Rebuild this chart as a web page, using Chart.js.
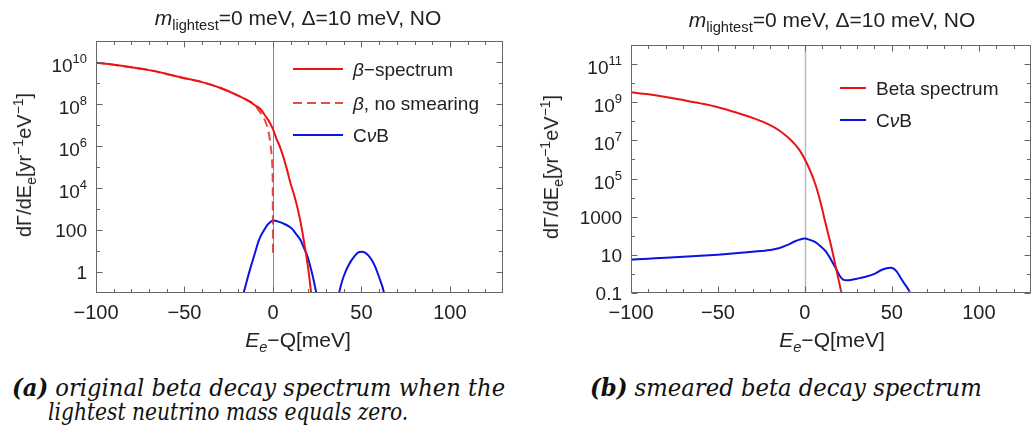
<!DOCTYPE html>
<html lang="en">
<head>
<meta charset="UTF-8">
<title>Beta spectrum and CνB, m_lightest = 0</title>
<script src="https://cdn.jsdelivr.net/npm/chart.js"></script>
<style>
  body { margin: 0; background: #fff; width: 1032px; height: 435px; position: relative; overflow: hidden;
         font-family: "Liberation Sans", Arial, sans-serif; color: #222; }
  canvas { position: absolute; top: 0; }
  #left { left: 0; }
  #right { left: 520px; }
  .txt { position: absolute; white-space: nowrap; line-height: 1; }
  .txt sub, .txt sup { line-height: 0; font-size: 70%; }
  .title { font-size: 21px; transform: translateX(-50%); }
  .xlab { font-size: 21px; transform: translateX(-50%); }
  .ylab { font-size: 20px; transform: translate(-50%, -50%) rotate(-90deg); }
  .cap { position: absolute; white-space: nowrap; line-height: 1; font-family: "DejaVu Serif", serif;
         font-style: italic; font-size: 24px; color: #111; transform-origin: 0 0; }
</style>
</head>
<body>
<canvas id="left" width="520" height="360"></canvas>
<canvas id="right" width="512" height="360"></canvas>

<div class="txt title" style="left:298px; top:7px"><i>m</i><sub>lightest</sub>=0 meV, Δ=10 meV, NO</div>
<div class="txt title" style="left:832px; top:9px"><i>m</i><sub>lightest</sub>=0 meV, Δ=10 meV, NO</div>
<div class="txt ylab" style="left:24px; top:165px">dΓ/dE<sub>e</sub>[yr<sup>−1</sup>eV<sup>−1</sup>]</div>
<div class="txt ylab" style="left:551px; top:167px">dΓ/dE<sub>e</sub>[yr<sup>−1</sup>eV<sup>−1</sup>]</div>
<div class="txt xlab" style="left:298px; top:329px"><i>E<sub>e</sub></i>−Q[meV]</div>
<div class="txt xlab" style="left:832px; top:329px"><i>E<sub>e</sub></i>−Q[meV]</div>

<div class="cap" data-w="493" style="left:12px; top:376px"><b>(a)</b> original beta decay spectrum when the</div>
<div class="cap" data-w="360" style="left:48px; top:400px">lightest neutrino mass equals zero.</div>
<div class="cap" data-w="392" style="left:590px; top:376px"><b>(b)</b> smeared beta decay spectrum</div>

<script>
const FONT = 'Liberation Sans'

// x axis (both panels), meV
const xMin = -100
const xMax = 130
const xMajor = [-100, -50, 0, 50, 100]
const xMinor = [-90, -80, -70, -60, -40, -30, -20, -10, 10, 20, 30, 40, 60, 70, 80, 90, 110, 120]
const xTickLabels = ['−100', '−50', '0', '50', '100']

// panel (a): original spectrum
const leftYMajor = [1, 100, 1e4, 1e6, 1e8, 1e10]
const leftYMinor = [10, 1000, 1e5, 1e7, 1e9]
const leftYTickLabels = ['1', '100', '10^4', '10^6', '10^8', '10^10']

const leftBetaE = [-100, -90, -80, -70, -60, -50, -40, -30, -20, -15, -10, -7, -4, -2, 0, 2, 4, 6, 8, 10, 12, 14, 16, 18, 20, 22]
const leftBetaRate = [9.3e9, 7.4e9, 5.6e9, 4.1e9, 2.7e9, 1.7e9, 1.1e9, 5.9e8, 2.6e8, 1.6e8, 8.5e7, 5.6e7, 2.5e7, 1.4e7,
  6.3e6, 2.2e6, 8.9e5, 2.8e5, 7.1e4, 1.6e4, 4.5e3, 1.0e3, 160, 16, 1.3, 0.05]

const leftNoSmearE = [-100, -90, -80, -70, -60, -50, -40, -30, -20, -15, -10, -8, -6, -5, -4, -3, -2, -1.3, -0.7, -0.3, -0.1, 0]
const leftNoSmearRate = [9.3e9, 7.4e9, 5.6e9, 4.1e9, 2.7e9, 1.7e9, 1.1e9, 5.9e8, 2.6e8, 1.6e8, 8.5e7, 5.0e7, 2.8e7, 2.0e7,
  1.26e7, 7.1e6, 2.8e6, 1.0e6, 3.2e5, 7.9e4, 6.3e3, 5.5]

const leftCvbE1 = [-17.2, -15, -12.5, -10, -8, -5, -3, -1, 0.5, 3, 6, 9, 11, 13, 15.5, 17.5, 19.5, 21, 22.5, 24.5, 25.2]
const leftCvbRate1 = [0.063, 0.32, 1.8, 8.9, 32, 100, 180, 260, 280, 250, 200, 150, 110, 66, 34, 14, 5.6, 2.0, 0.63, 0.1, 0.05]
const leftCvbE2 = [36.8, 38.5, 40, 42, 44, 46, 48, 50, 52, 54, 56, 58, 60, 62, 63.3]
const leftCvbRate2 = [0.063, 0.25, 0.63, 1.6, 3.2, 5.6, 8.3, 9.3, 8.3, 6.0, 3.5, 1.6, 0.56, 0.18, 0.063]

// panel (b): smeared spectrum
const rightYMajor = [0.1, 10, 1000, 1e5, 1e7, 1e9, 1e11]
const rightYMinor = [1, 100, 1e4, 1e6, 1e8, 1e10]
const rightYTickLabels = ['0.1', '10', '1000', '10^5', '10^7', '10^9', '10^11']

const rightBetaE = [-100, -90, -80, -70, -60, -50, -40, -30, -20, -15, -10, -6, -3, 0, 3, 6, 9, 12, 15, 18, 21, 22.5]
const rightBetaRate = [3.3e9, 2.6e9, 1.9e9, 1.3e9, 8.7e8, 5.5e8, 3.0e8, 1.5e8, 6.3e7, 3.4e7, 1.5e7, 6.6e6, 3.0e6,
  1.0e6, 2.6e5, 5.0e4, 5.6e3, 400, 32, 1.8, 0.1, 0.02]

const rightCvbE = [-100, -90, -80, -70, -60, -50, -40, -30, -20, -15, -10, -6, -3, 0, 3, 6, 9, 12, 15, 18, 20, 22, 24,
  27, 30, 35, 40, 44, 47, 49, 51, 53, 55, 57, 59, 60.5, 61.5]
const rightCvbRate = [5.6, 6.3, 7.1, 7.9, 8.9, 10.2, 12, 14.5, 18, 22, 33, 50, 63, 71, 60, 46, 28, 15, 5.6, 1.8, 0.8, 0.5, 0.46,
  0.5, 0.56, 0.71, 1.0, 1.6, 2.0, 2.1, 1.9, 1.26, 0.63, 0.33, 0.18, 0.1, 0.05]

const RED = 'rgb(235, 20, 20)'
const RED_DASH = 'rgba(225, 45, 45, 0.85)'
const BLUE = 'rgb(10, 20, 225)'

const pts = (xs, ys) => xs.map((x, i) => ({ x, y: ys[i] }))

const drawRich = (ctx, parts, x, y, size) => {
  parts.forEach(([t, it]) => {
    ctx.font = (it ? 'italic ' : '') + size + 'px "' + FONT + '"'
    ctx.fillText(t, x, y)
    x += ctx.measureText(t).width
  })
}

// frame, inward ticks, zero line, y tick labels and legend
const makeFrame = (cfg) => ({
  id: 'frame',
  beforeDatasetsDraw(chart) {
    const { ctx, chartArea: a, scales: { x } } = chart
    const px = Math.round(x.getPixelForValue(0)) + 0.5
    ctx.save()
    ctx.strokeStyle = cfg.zeroColor
    ctx.lineWidth = cfg.zeroWidth
    ctx.beginPath()
    ctx.moveTo(px, a.top)
    ctx.lineTo(px, a.bottom)
    ctx.stroke()
    ctx.restore()
  },
  afterDatasetsDraw(chart) {
    const { ctx, chartArea: a, scales: { x, y } } = chart
    const L = Math.round(a.left) + 0.5, R = Math.round(a.right) - 0.5
    const T = Math.round(a.top) + 0.5, B = Math.round(a.bottom) - 0.5
    ctx.save()
    ctx.strokeStyle = '#666'
    ctx.lineWidth = 1
    ctx.strokeRect(L, T, R - L, B - T)
    ctx.beginPath()
    const xt = (v, len) => {
      const p = Math.round(x.getPixelForValue(v)) + 0.5
      ctx.moveTo(p, B); ctx.lineTo(p, B - len)
      ctx.moveTo(p, T); ctx.lineTo(p, T + len)
    }
    const yt = (v, len) => {
      const p = Math.round(y.getPixelForValue(v)) + 0.5
      ctx.moveTo(L, p); ctx.lineTo(L + len, p)
      ctx.moveTo(R, p); ctx.lineTo(R - len, p)
    }
    xMajor.forEach(v => xt(v, 6))
    xMinor.forEach(v => xt(v, 3.5))
    cfg.yMajor.forEach(v => yt(v, 6))
    cfg.yMinor.forEach(v => yt(v, 3.5))
    ctx.stroke()

    // y tick labels, exponent as superscript
    ctx.fillStyle = '#222'
    ctx.textAlign = 'left'
    ctx.textBaseline = 'alphabetic'
    cfg.yMajor.forEach((v, i) => {
      const p = y.getPixelForValue(v)
      const [base, exp] = cfg.yLabels[i].split('^')
      ctx.font = '19px "' + FONT + '"'
      const wb = ctx.measureText(base).width
      let we = 0
      if (exp) {
        ctx.font = '13px "' + FONT + '"'
        we = ctx.measureText(exp).width
      }
      const x0 = a.left - 9 - wb - we
      const by = exp ? p + 10 : p + 7
      ctx.font = '19px "' + FONT + '"'
      ctx.fillText(base, x0, by)
      if (exp) {
        ctx.font = '13px "' + FONT + '"'
        ctx.fillText(exp, x0 + wb, by - 9)
      }
    })

    // legend
    const lg = cfg.legend
    lg.rows.forEach(r => {
      const ds = chart.data.datasets[r.ds]
      ctx.strokeStyle = ds.borderColor
      ctx.lineWidth = 2
      ctx.setLineDash(ds.borderDash || [])
      ctx.beginPath()
      ctx.moveTo(lg.x0, r.y)
      ctx.lineTo(lg.x1, r.y)
      ctx.stroke()
      ctx.setLineDash([])
      ctx.fillStyle = '#222'
      drawRich(ctx, r.parts, lg.tx, r.y + 7, 19)
    })
    ctx.restore()
  }
})

const logChart = (id, datasets, o) => new Chart(document.getElementById(id), {
  type: 'line',
  data: { datasets },
  options: {
    responsive: false,
    animation: false,
    events: [],
    layout: { padding: { top: o.top, right: o.right, left: 0, bottom: 0 } },
    elements: { point: { radius: 0 }, line: { borderWidth: 2, cubicInterpolationMode: 'monotone' } },
    scales: {
      x: {
        type: 'linear', min: xMin, max: xMax,
        grid: { display: false, drawTicks: false },
        border: { display: false },
        afterBuildTicks: s => { s.ticks = xMajor.map(v => ({ value: v })) },
        afterFit: s => { s.height = 67 },
        ticks: {
          autoSkip: false, maxRotation: 0, padding: 8, color: '#222',
          font: { family: FONT, size: 20 },
          callback: (v, i) => xTickLabels[i]
        }
      },
      y: {
        type: 'logarithmic', min: o.yMin, max: o.yMax,
        grid: { display: false, drawTicks: false },
        border: { display: false },
        ticks: { display: false },
        afterFit: s => { s.width = o.yWidth }
      }
    },
    plugins: { legend: { display: false }, tooltip: { enabled: false } }
  },
  plugins: [makeFrame(o.frame)]
})

logChart('left', [
  { label: 'β−spectrum', data: pts(leftBetaE, leftBetaRate), borderColor: RED, clip: 0 },
  { label: 'β, no smearing', data: pts(leftNoSmearE, leftNoSmearRate), borderColor: RED_DASH, borderDash: [9, 5], clip: 0 },
  { label: 'CνB', data: pts(leftCvbE1, leftCvbRate1), borderColor: BLUE, clip: 0 },
  { label: 'CνB (second peak)', data: pts(leftCvbE2, leftCvbRate2), borderColor: BLUE, clip: 0 }
], {
  top: 41, right: 17, yWidth: 96, yMin: 0.1, yMax: 1e11,
  frame: {
    yMajor: leftYMajor, yMinor: leftYMinor, yLabels: leftYTickLabels,
    zeroColor: '#888', zeroWidth: 1,
    legend: {
      x0: 293, x1: 343, tx: 353,
      rows: [
        { ds: 0, y: 69, parts: [['β', true], ['−spectrum', false]] },
        { ds: 1, y: 103, parts: [['β', true], [', no smearing', false]] },
        { ds: 2, y: 135, parts: [['C', false], ['ν', true], ['B', false]] }
      ]
    }
  }
})

logChart('right', [
  { label: 'Beta spectrum', data: pts(rightBetaE, rightBetaRate), borderColor: RED, clip: 0 },
  { label: 'CνB', data: pts(rightCvbE, rightCvbRate), borderColor: BLUE, clip: 0 }
], {
  top: 45, right: 1, yWidth: 111, yMin: 0.1, yMax: 1e12,
  frame: {
    yMajor: rightYMajor, yMinor: rightYMinor, yLabels: rightYTickLabels,
    zeroColor: '#bbb', zeroWidth: 1.5,
    legend: {
      x0: 320, x1: 346, tx: 356,
      rows: [
        { ds: 0, y: 88, parts: [['Beta spectrum', false]] },
        { ds: 1, y: 120, parts: [['C', false], ['ν', true], ['B', false]] }
      ]
    }
  }
})

// fit the captions to the measured widths
document.querySelectorAll('.cap').forEach(el => {
  el.style.transform = 'scaleX(' + (+el.dataset.w / el.offsetWidth) + ')'
})
</script>
</body>
</html>
